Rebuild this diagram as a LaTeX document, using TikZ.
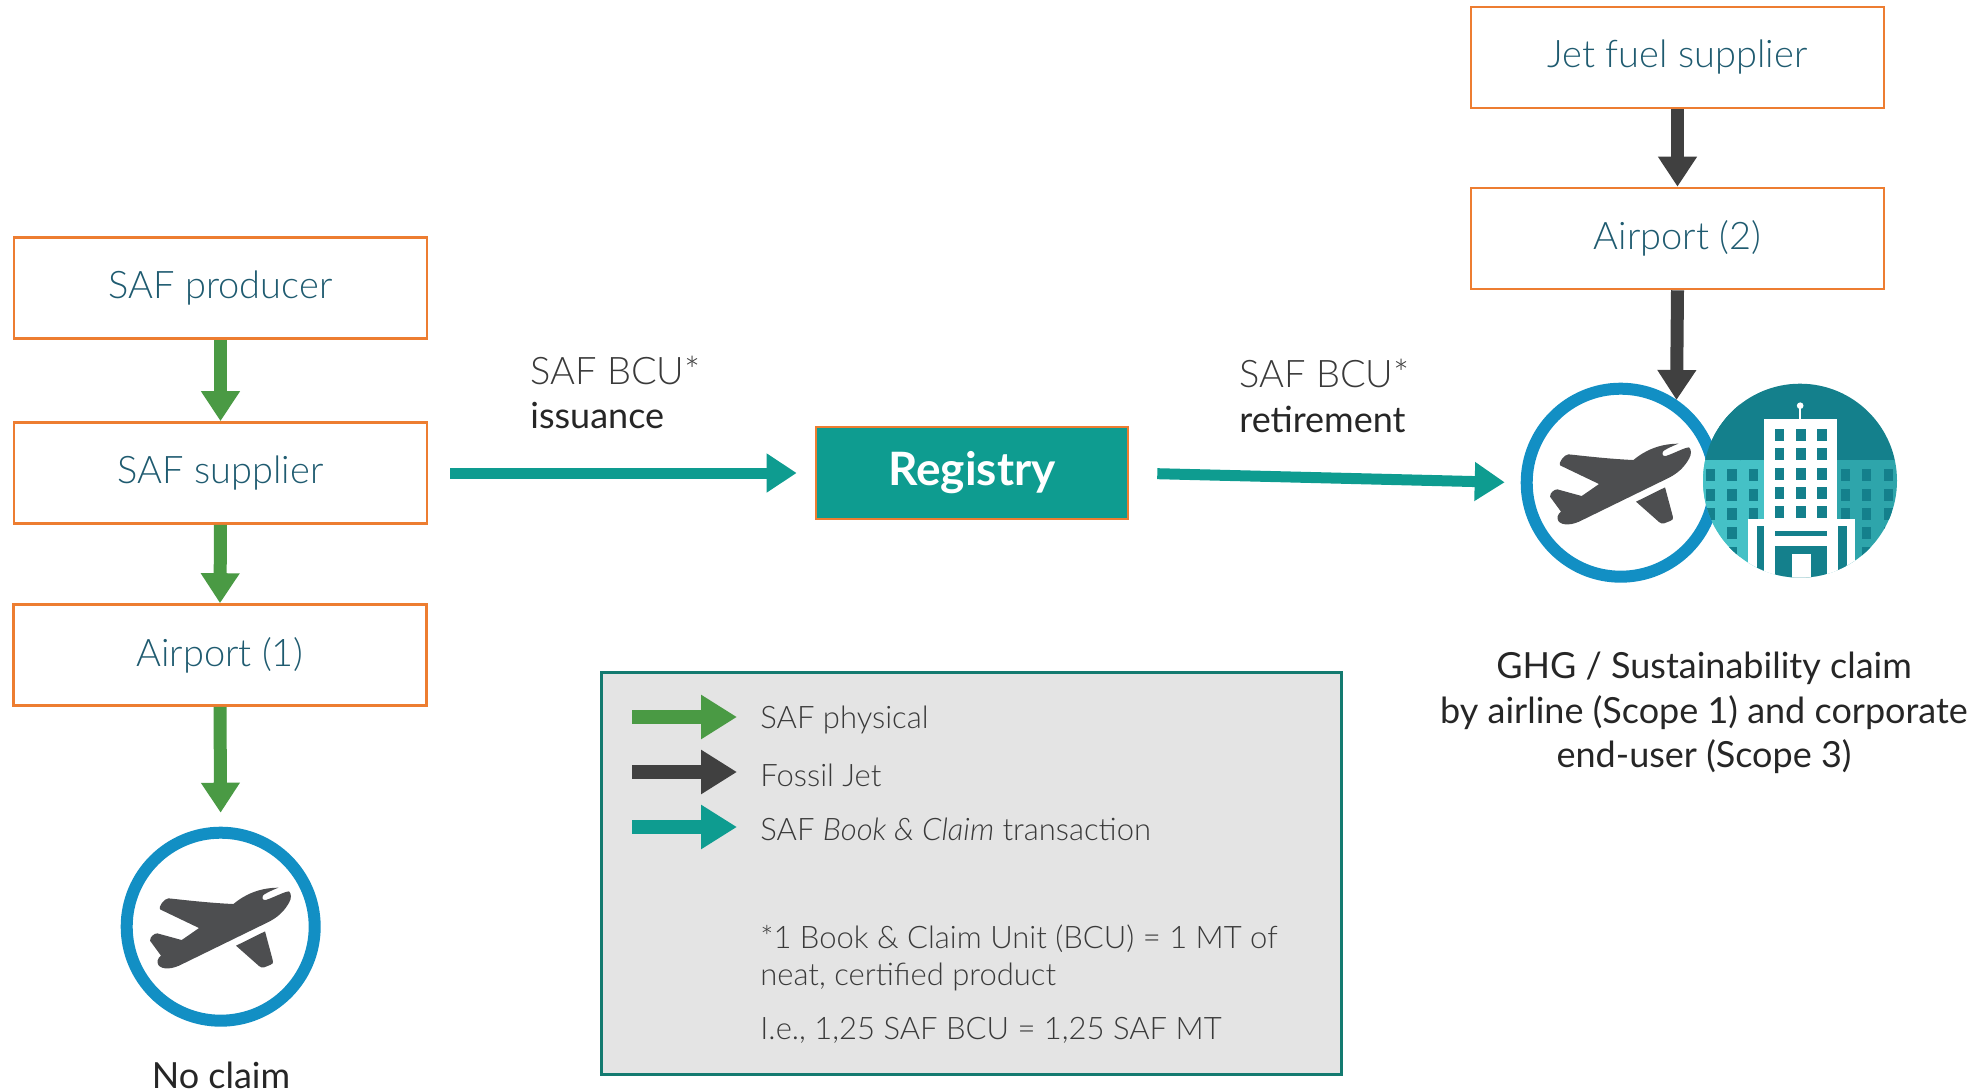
\documentclass[tikz,border=0pt]{standalone}
\usepackage{fontspec}
\setmainfont{Lato Light}[ItalicFont={Lato Light Italic}]
\newfontfamily\latoreg{Lato}
\newfontfamily\latobold{Lato Bold}
\usetikzlibrary{arrows.meta}
\definecolor{orangeb}{HTML}{ED7D31}
\definecolor{boxtext}{HTML}{1F5B70}
\definecolor{safgreen}{HTML}{4A9A44}
\definecolor{fossil}{HTML}{404040}
\definecolor{bookteal}{HTML}{0E9C90}
\definecolor{ringblue}{HTML}{128FC4}
\definecolor{planegrey}{HTML}{4D4E50}
\definecolor{bdark}{HTML}{14808C}
\definecolor{blight}{HTML}{45C1C6}
\definecolor{bmid}{HTML}{2EA5AB}
\definecolor{legendfill}{HTML}{E4E4E4}
\definecolor{legendline}{HTML}{137A70}
\definecolor{labelgrey}{HTML}{3A3A3A}
\tikzset{
 flowbox/.style={draw=orangeb,line width=1.3pt,minimum width=206.5pt,minimum height=50.5pt,inner sep=0pt,text=boxtext,font=\fontsize{19}{23}\selectfont},
 phys/.style={draw=safgreen,line width=6.5pt,-{Triangle[length=15pt,width=18.5pt]}},
 foss/.style={draw=fossil,line width=6.5pt,-{Triangle[length=15pt,width=18.5pt]}},
 book/.style={draw=bookteal,line width=5.5pt,-{Triangle[length=15pt,width=18.5pt]}},
 legphys/.style={draw=safgreen,line width=7pt,-{Triangle[length=18pt,width=21pt]}},
 legfoss/.style={draw=fossil,line width=7pt,-{Triangle[length=18pt,width=21pt]}},
 legbook/.style={draw=bookteal,line width=7pt,-{Triangle[length=18pt,width=21pt]}},
 ring/.style={circle,draw=ringblue,fill=white,line width=6pt,minimum size=94pt,inner sep=0pt},
 legtext/.style={anchor=west,inner sep=0pt,text=labelgrey,font=\fontsize{15.5}{19}\selectfont},
 flowlabel/.style={anchor=west,inner sep=0pt,text=labelgrey,font=\fontsize{19}{23}\selectfont},
 strong/.style={anchor=west,inner sep=0pt,text=black!85,font=\latoreg\fontsize{18}{23}\selectfont},
 claim/.style={inner sep=0pt,text=black!85,font=\latoreg\fontsize{18}{23}\selectfont},
}
\newcommand{\planeshape}[2]{%
 \begin{scope}[shift={(#1,#2)},x=0.16667pt,y=-0.16667pt]
 \fill[planegrey] (-157,-85) .. controls (-150,-85) and (-50,-72) .. (38,-68)
  .. controls (70,-95) and (115,-117) .. (173,-117)
  .. controls (150,-108) and (135,-100) .. (128,-95)
  .. controls (122,-88) and (126,-78) .. (135,-80)
  .. controls (160,-88) and (190,-105) .. (205,-106)
  .. controls (212,-100) and (213,-85) .. (205,-72)
  .. controls (190,-45) and (170,-28) .. (145,-15)
  -- (-115,112) .. controls (-145,128) and (-175,130) .. (-187,115)
  .. controls (-192,105) and (-190,95) .. (-179,87)
  -- (-212,42) .. controls (-212,30) and (-200,20) .. (-190,20)
  -- (-117,40) -- (-65,4) -- (-182,-52) .. controls (-188,-58) and (-170,-85) .. (-157,-85) -- cycle;
 \fill[planegrey] (133,14) -- (156,100) .. controls (158,110) and (155,113) .. (148,115)
  -- (130,122) .. controls (125,124) and (120,122) .. (115,118) -- (46,57) -- cycle;
 \end{scope}}
\begin{document}
\begin{tikzpicture}[x=0.5pt,y=-0.5pt]
\useasboundingbox (0,0) rectangle (1982,1091);
% flow boxes
\node[flowbox] (producer) at (220.5,288) {SAF producer};
\node[flowbox] (supplier) at (220.5,473) {SAF supplier};
\node[flowbox] (airport1) at (220,655) {Airport (1)};
\node[flowbox] (jet) at (1677.5,57.5) {Jet fuel supplier};
\node[flowbox] (airport2) at (1677.5,238.5) {Airport (2)};
\node[draw=orangeb,fill=bookteal,line width=1.3pt,minimum width=156pt,minimum height=46pt,inner sep=0pt,text=white,font=\latobold\fontsize{23}{27}\selectfont] (registry) at (972,473) {Registry};
% legend
\node[draw=legendline,fill=legendfill,line width=1.5pt,minimum width=370pt,minimum height=201pt,inner sep=0pt] (legend) at (971,873) {};
% building
\begin{scope}
 \clip (1800,480.7) circle[radius=97];
 \begin{scope}[shift={(1800,480.7)},x=0.16667pt,y=-0.16667pt]
 \fill[bdark] (-300,-300) rectangle (300,-60);
 \fill[blight] (-300,-62) rectangle (0,300);
 \fill[bmid] (0,-62) rectangle (300,300);
 \foreach \cx in {-268,-204,-140,137,200,265} \foreach \cy in {-16,42,100,158,216}
  {\fill[bdark] (\cx-14,\cy-18) rectangle (\cx+14,\cy+18);}
 \fill[white] (-107,-185) rectangle (112,300);
 \foreach \cx in {-61,3,66} \foreach \cy in {-137,-79,-21,38,95}
  {\fill[bdark] (\cx-14,\cy-18) rectangle (\cx+14,\cy+18);}
 \fill[white] (-155,115) rectangle (165,300);
 \fill[white] (0.5,-225) circle[radius=10];
 \fill[white] (-3,-225) rectangle (4,-185);
 \fill[bdark] (-130,135) rectangle (-107,300);
 \fill[bdark] (113,135) rectangle (140,300);
 \fill[bdark] (-75,150) rectangle (80,166);
 \fill[bdark] (-75,196) rectangle (80,300);
 \fill[white] (-24,221) rectangle (32,300);
 \end{scope}
\end{scope}
% airline icon: ring behind the building
\begin{scope}[on background layer/.try]
\end{scope}
\node[ring,fill=none] (airline) at (1620.7,482.7) {};
\node[ring] (noclaim) at (220.7,926.7) {};
\planeshape{1620.7}{482.7}
\planeshape{220.7}{926.7}
% building left edge over the ring
\begin{scope}
 \clip (1800,480.7) circle[radius=97];
 \clip (1700,380) rectangle (1740,580);
 \begin{scope}[shift={(1800,480.7)},x=0.16667pt,y=-0.16667pt]
 \fill[bdark] (-300,-300) rectangle (300,-60);
 \fill[blight] (-300,-62) rectangle (0,300);
 \foreach \cx in {-268,-204} \foreach \cy in {-16,42,100,158,216}
  {\fill[bdark] (\cx-14,\cy-18) rectangle (\cx+14,\cy+18);}
 \end{scope}
\end{scope}
% connectors
\draw[phys] (producer.south) -- (supplier.north);
\draw[phys] (supplier.south) -- (airport1.north);
\draw[phys,shorten >=7pt] (airport1.south) -- (noclaim.north);
\draw[foss] (jet.south) -- (airport2.north);
\coordinate (claimtop) at (1676.5,400);
\draw[foss] (airport2.south) -- (claimtop);
\draw[book,shorten <=11pt,shorten >=9pt] (supplier.east) -- (registry.west);
\draw[book,shorten <=14pt,shorten >=8pt] (registry.east) -- (airline.west);
% labels
\node[flowlabel] (issue1) at (530,370) {SAF BCU*};
\node[strong] (issue2) at (530,416) {issuance};
\node[flowlabel] (ret1) at (1239,373) {SAF BCU*};
\node[strong] (ret2) at (1239,419) {retirement};
\node[claim] (claim1) at (1704,668) {GHG / Sustainability claim};
\node[claim] (claim2) at (1704,713) {by airline (Scope 1) and corporate};
\node[claim] (claim3) at (1704,757) {end-user (Scope 3)};
\node[claim] (noclaimtext) at (221,1075) {No claim};
% legend content
\coordinate (la1) at (632,717); \coordinate (lb1) at (737,717);
\coordinate (la2) at (632,772); \coordinate (lb2) at (737,772);
\coordinate (la3) at (632,827); \coordinate (lb3) at (737,827);
\draw[legphys] (la1) -- (lb1);
\draw[legfoss] (la2) -- (lb2);
\draw[legbook] (la3) -- (lb3);
\node[legtext] (lt1) at (760,720) {SAF physical};
\node[legtext] (lt2) at (760,775) {Fossil Jet};
\node[legtext] (lt3) at (760,829) {SAF \textit{Book \& Claim} transaction};
\node[legtext] (lt4) at (760,939) {*1 Book \& Claim Unit (BCU) = 1 MT of};
\node[legtext] (lt5) at (760,977) {neat, certified product};
\node[legtext] (lt6) at (760,1030) {I.e., 1,25 SAF BCU = 1,25 SAF MT};
\end{tikzpicture}
\end{document}
